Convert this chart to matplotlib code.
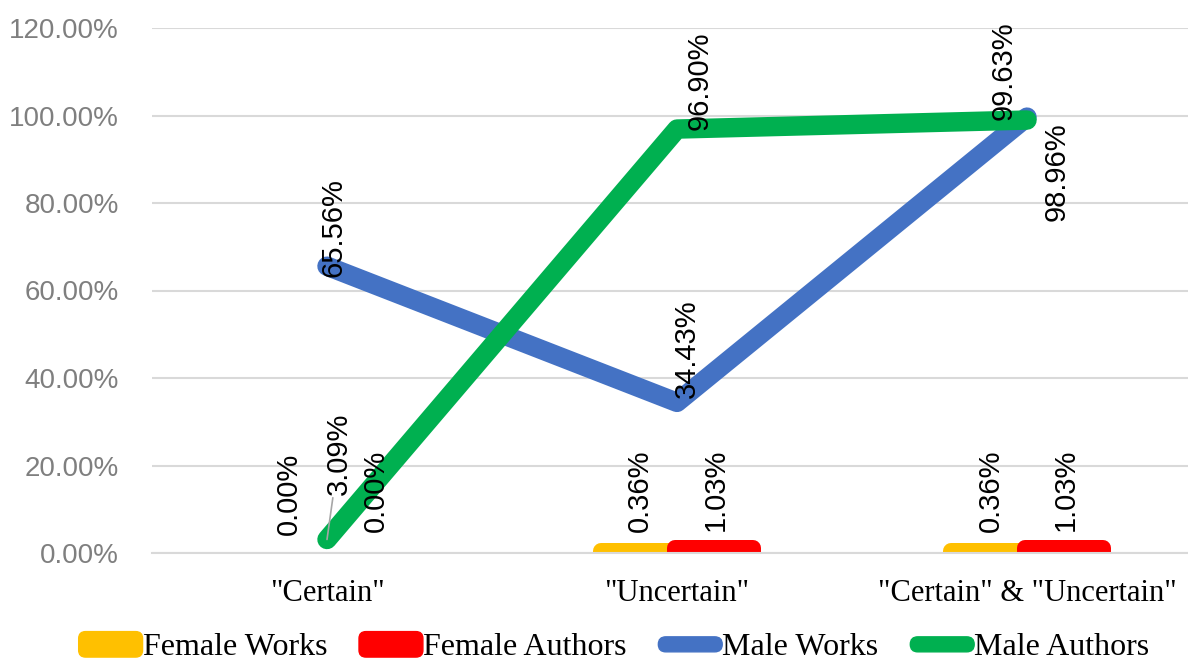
import numpy as np
import matplotlib
matplotlib.use("Agg")
import matplotlib.pyplot as plt
from matplotlib.patches import FancyBboxPatch
from matplotlib.legend_handler import HandlerPatch

categories = ['"Certain"', '"Uncertain"', '"Certain" & "Uncertain"']
female_works = [0.00, 0.36, 0.36]
female_authors = [0.00, 1.03, 1.03]
male_works = [65.56, 34.43, 99.63]
male_authors = [3.09, 96.90, 98.96]
y_ticks = [0, 20, 40, 60, 80, 100, 120]

ORANGE = "#FFC000"
RED = "#FF0000"
BLUE = "#4472C4"
GREEN = "#00B050"

PX = 0.72  # pixels -> points at dpi 100

fig = plt.figure(figsize=(11.88, 6.65), dpi=100)
ax = fig.add_axes([152 / 1188, 112 / 665, 1050 / 1188, 525 / 665])

x = np.arange(len(categories))
bar_off = 37 / 350
bar_w = 78 / 350
edge = 16 * PX

def draw_bars(pos, vals, color):
    lws = [edge if v > 0 else 0 for v in vals]
    bars = ax.bar(pos, vals, width=bar_w, color=color, edgecolor=color,
                  linewidth=lws, joinstyle="round", zorder=2)
    return bars

draw_bars(x - bar_off, female_works, ORANGE)
draw_bars(x + bar_off, female_authors, RED)

ax.plot(x, male_works, color=BLUE, lw=14, solid_capstyle="round",
        solid_joinstyle="round", zorder=3)
ax.plot(x, male_authors, color=GREEN, lw=14, solid_capstyle="round",
        solid_joinstyle="round", zorder=4)

lab_font = dict(family="Liberation Sans", size=21, color="black", rotation=90,
                ha="center", zorder=6)

def label(xv, yv, dx, dy, va="bottom", leader=False):
    kw = {}
    if leader:
        kw["arrowprops"] = dict(arrowstyle="-", color="#A6A6A6", lw=1.2,
                                shrinkA=0, shrinkB=0)
    ax.annotate(f"{yv:.2f}%", (xv, yv), xytext=(dx * PX, dy * PX),
                textcoords="offset points", va=va, **lab_font, **kw)

fw_off = [(-1, 18), (0, 19.5), (0.5, 19.5)]
fa_off = [(12, 21), (2, 17.5), (2, 17.5)]
mw_off = [(6.5, -11, "bottom"), (10, 4, "bottom"), (-23, -3, "bottom")]
ma_off = [(12, 44.5, "bottom"), (23, -1, "bottom"), (30, -2, "top")]

for i in range(len(categories)):
    label(x[i] - bar_off, female_works[i], *fw_off[i])
    label(x[i] + bar_off, female_authors[i], *fa_off[i])
    label(x[i], male_works[i], *mw_off[i])
    label(x[i], male_authors[i], *ma_off[i], leader=(i == 0))

ax.set_xlim(-0.5, 2.5)
ax.set_ylim(0, 120)
ax.set_yticks(y_ticks)
ax.set_yticklabels([f"{t:.2f}%" for t in y_ticks], family="Liberation Sans",
                   size=20, color="#7F7F7F")
ax.set_xticks(x)
ax.set_xticklabels(categories, family="Liberation Serif", size=22, color="black")
ax.tick_params(axis="y", length=0, pad=24)
ax.tick_params(axis="x", length=0, pad=19)
ax.grid(axis="y", color="#D9D9D9", lw=1.5, zorder=0)
ax.set_axisbelow(True)
for s in ["top", "right", "left"]:
    ax.spines[s].set_visible(False)
ax.spines["bottom"].set_color("#D9D9D9")
ax.spines["bottom"].set_linewidth(1.5)


# legend keys: rounded boxes for bars, rounded strokes for lines
def box_key(legend, orig_handle, xdescent, ydescent, width, height, fontsize):
    return FancyBboxPatch((-xdescent, -ydescent), width, height,
                          boxstyle="round,pad=0,rounding_size=5")


def line_key(legend, orig_handle, xdescent, ydescent, width, height, fontsize):
    t = 15 * PX
    return FancyBboxPatch((-xdescent, -ydescent + (height - t) / 2), width, t,
                          boxstyle=f"round,pad=0,rounding_size={t / 2}")


handles = [plt.Rectangle((0, 0), 1, 1, color=c) for c in [ORANGE, RED, BLUE, GREEN]]
hmap = {handles[0]: HandlerPatch(patch_func=box_key),
        handles[1]: HandlerPatch(patch_func=box_key),
        handles[2]: HandlerPatch(patch_func=line_key),
        handles[3]: HandlerPatch(patch_func=line_key)}
names = ["Female Works", "Female Authors", "Male Works", "Male Authors"]
fig.legend(handles, names, loc="center", bbox_to_anchor=(614 / 1188, 1 - 647 / 665),
           ncol=4, frameon=False, prop=dict(family="Liberation Serif", size=23),
           handlelength=2.0, handleheight=0.85, handletextpad=0.0,
           columnspacing=1.0, borderaxespad=0, borderpad=0, handler_map=hmap)

fig.savefig("out.png", dpi=100)
